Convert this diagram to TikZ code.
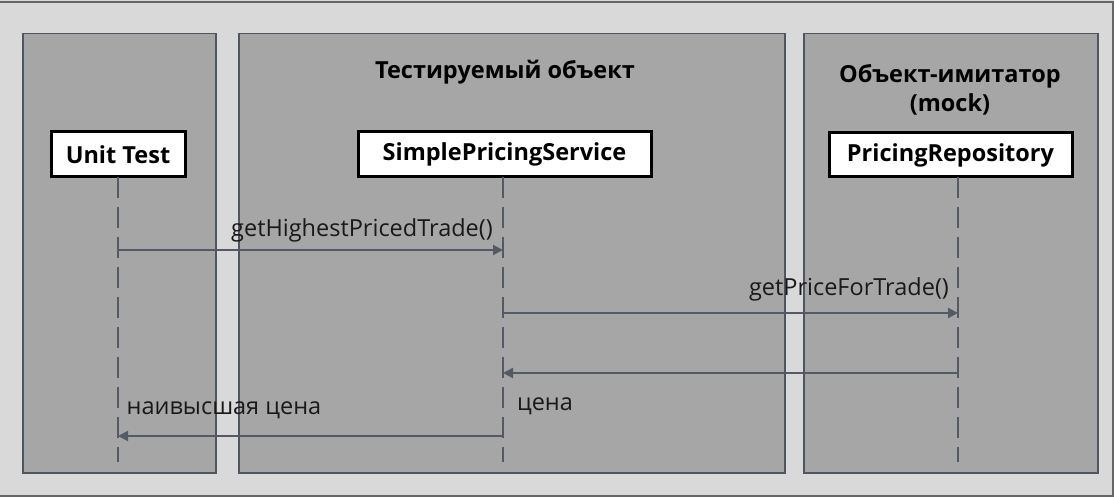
\documentclass[tikz,border=0pt]{standalone}
\usepackage{fontspec}
\setmainfont{Open Sans}
\usetikzlibrary{arrows.meta}
\definecolor{bgc}{HTML}{D9D9D9}
\definecolor{panelc}{HTML}{A6A6A6}
\definecolor{edgec}{HTML}{50565F}
\definecolor{linec}{HTML}{535A65}
\tikzset{
  panel/.style={draw=edgec, line width=1.5pt, fill=panelc},
  objbox/.style={draw=black, line width=3pt, fill=white, inner sep=0pt, font=\bfseries\fontsize{23.5}{26}\selectfont, text=black},
  ptitle/.style={font=\bfseries\fontsize{23.5}{26}\selectfont, text=black, inner sep=0pt},
  msglabel/.style={font=\fontsize{23.5}{26}\selectfont, text=black!90, inner sep=0pt},
  lifeline/.style={draw=linec, line width=2pt, dash pattern=on 21pt off 9pt},
  msg/.style={draw=linec, line width=2pt, -{Triangle[length=10pt,width=10pt]}},
}
\begin{document}
\begin{tikzpicture}[x=1pt,y=-1pt]
\useasboundingbox (0,0) rectangle (1114,497);
\fill[bgc] (0,0) rectangle (1114,497);
\draw[draw=black!60, line width=1.5pt] (-2,2) rectangle (1113,496);
% panels
\node[panel, minimum width=193pt, minimum height=439pt, anchor=north west, inner sep=0pt] (p1) at (22,33) {};
\node[panel, minimum width=546pt, minimum height=439pt, anchor=north west, inner sep=0pt] (p2) at (238,33) {};
\node[panel, minimum width=294pt, minimum height=439pt, anchor=north west, inner sep=0pt] (p3) at (803,33) {};
% titles
\node[ptitle] (t2) at (505,72) {Тестируемый объект};
\node[ptitle] (t3a) at (950,76) {Объект-имитатор};
\node[ptitle] (t3b) at (950,104) {(mock)};
% object boxes
\node[objbox, minimum width=134pt, minimum height=45pt] (ut) at (118,154.5) {Unit Test};
\node[objbox, minimum width=293pt, minimum height=45pt] (sps) at (504.5,154.5) {SimplePricingService};
\node[objbox, minimum width=243pt, minimum height=44pt] (pr) at (950.5,155) {PricingRepository};
% lifeline coordinates
\coordinate (utT) at (118,177);  \coordinate (utB) at (118,462);
\coordinate (spsT) at (503,177); \coordinate (spsB) at (503,462);
\coordinate (prT) at (958,177);  \coordinate (prB) at (958,462);
\draw[lifeline] (utT) -- (utB);
\draw[lifeline] (spsT) -- (spsB);
\draw[lifeline] (prT) -- (prB);
% message endpoints
\coordinate (m1a) at (118,250); \coordinate (m1b) at (503,250);
\coordinate (m2a) at (503,313); \coordinate (m2b) at (958,313);
\coordinate (m3a) at (958,373); \coordinate (m3b) at (503,373);
\coordinate (m4a) at (503,436); \coordinate (m4b) at (118,436);
\draw[msg] (m1a) -- (m1b);
\draw[msg] (m2a) -- (m2b);
\draw[msg] (m3a) -- (m3b);
\draw[msg] (m4a) -- (m4b);
% labels
\node[msglabel] (l1) at (362,230) {getHighestPricedTrade()};
\node[msglabel] (l2) at (849,289) {getPriceForTrade()};
\node[msglabel] (l3) at (545,406) {цена};
\node[msglabel] (l4) at (224,410) {наивысшая цена};
\end{tikzpicture}
\end{document}
